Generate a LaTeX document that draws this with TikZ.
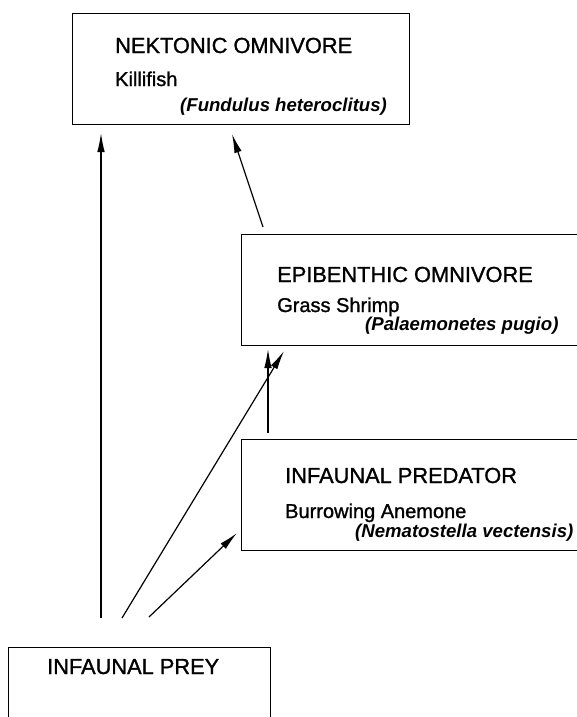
\documentclass[tikz,border=0pt]{standalone}
\usepackage{fontspec}
\setmainfont{Liberation Sans}
\newfontfamily\scanfont{Liberation Sans}[FakeBold=1.2]
\usetikzlibrary{arrows.meta,calc}
\begin{document}
\begin{tikzpicture}[x=1pt,y=1pt,
  box/.style={draw,line width=1.3pt,rectangle,inner sep=0pt,anchor=north west},
  head/.style={anchor=base west,inner sep=0pt,font=\scanfont\fontsize{21.8}{24}\selectfont},
  sub/.style={anchor=base west,inner sep=0pt,font=\scanfont\fontsize{20}{22}\selectfont},
  spec/.style={anchor=base west,inner sep=0pt,font=\fontsize{18.6}{21}\selectfont\bfseries\itshape},
  arr/.style={line width=1.2pt,-{Latex[length=19pt,width=7.5pt]}}]
\useasboundingbox (0,0) rectangle (577,-717);
\clip (0,0) rectangle (577,-717);
% boxes
\node[box,minimum width=337,minimum height=111] (nek) at (72,-13) {};
\node[box,minimum width=380,minimum height=111] (epi) at (241,-234) {};
\node[box,minimum width=380,minimum height=111] (pred) at (241,-439) {};
\node[box,minimum width=262,minimum height=120] (prey) at (8,-647) {};
% texts
\node[head] (t1) at (115,-53) {NEKTONIC OMNIVORE};
\node[sub] (t1a) at (115,-86) {Killifish};
\node[spec] (t1b) at (180,-111) {(Fundulus heteroclitus)};
\node[head] (t2) at (277,-282) {EPIBENTHIC OMNIVORE};
\node[sub] (t2a) at (277,-312) {Grass Shrimp};
\node[spec] (t2b) at (365,-330) {(Palaemonetes pugio)};
\node[head] (t3) at (285,-483) {INFAUNAL PREDATOR};
\node[sub] (t3a) at (285,-518) {Burrowing Anemone};
\node[spec] (t3b) at (355,-537) {(Nematostella vectensis)};
\node[head] (t4) at (47,-674) {INFAUNAL PREY};
% connector ends
\coordinate (s1) at (101,-618);
\coordinate (e1) at (101,-133);
\coordinate (s2) at (263,-227);
\coordinate (e2) at (232,-134);
\coordinate (s3) at (268,-433);
\coordinate (e3) at (268,-349);
\coordinate (s4) at (122,-618);
\coordinate (e4) at (284,-351);
\coordinate (s5) at (149,-617);
\coordinate (e5) at (237,-533);
\draw[arr] (s1) -- (e1);
\draw[arr] (s2) -- (e2);
\draw[arr] (s3) -- (e3);
\draw[arr] (s4) -- (e4);
\draw[arr] (s5) -- (e5);
\end{tikzpicture}
\end{document}
